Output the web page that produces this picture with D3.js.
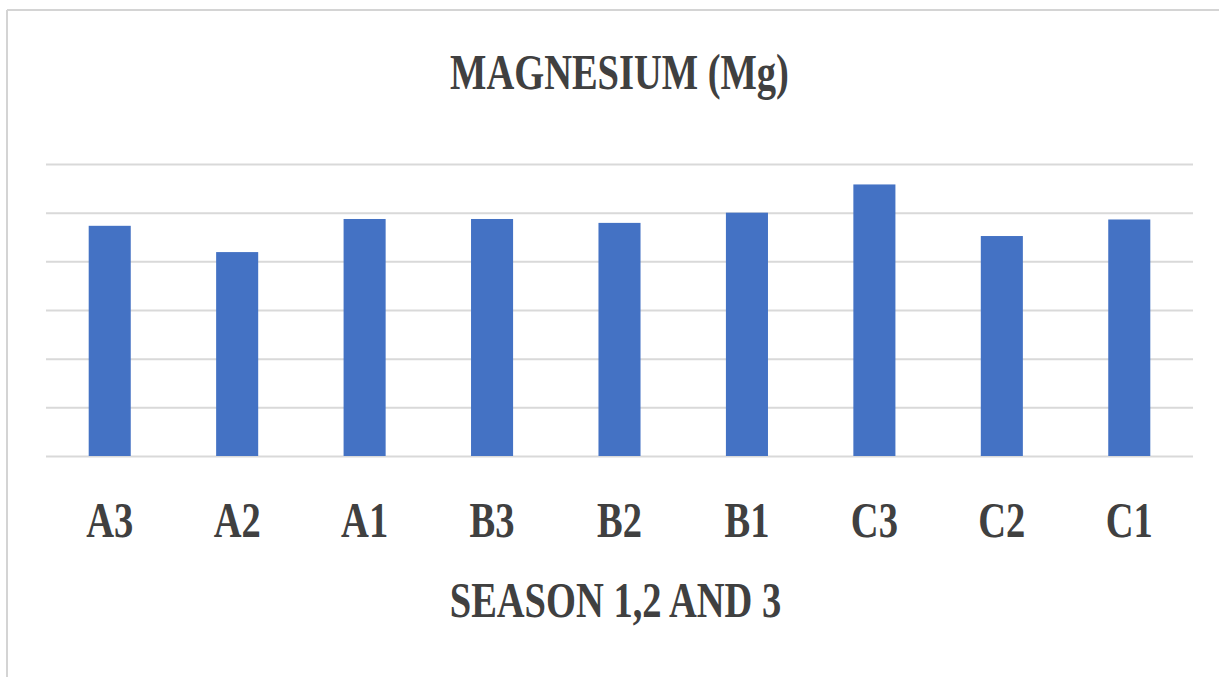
<!DOCTYPE html>
<html>
<head>
<meta charset="utf-8">
<script src="https://cdn.jsdelivr.net/npm/d3@7"></script>
<style>
  body { margin: 0; background: #fff; }
  svg text { font-family: "Liberation Serif", "Times New Roman", serif; font-weight: bold; fill: #404040; }
</style>
</head>
<body>
<svg id="chart" width="1219" height="677"></svg>
<script>
// valeurs (unités des lignes de grille, pas d'étiquettes en Y)
var categories = ["A3", "A2", "A1", "B3", "B2", "B1", "C3", "C2", "C1"];
var magnesium = [4.73, 4.19, 4.87, 4.87, 4.79, 5.0, 5.58, 4.52, 4.86];
var gridTicks = [0, 1, 2, 3, 4, 5, 6];

var toile = d3.select("#chart");
var W = 1219, H = 677;
var plotleft = 46, plotright = 1193, plottop = 164, plotbottom = 456;
var fontsize = 50, squeeze = 0.77;

// cadre gris (haut et gauche seulement visibles)
toile.append("line")
  .attr("x1", 7).attr("y1", 10).attr("x2", W).attr("y2", 10)
  .attr("stroke", "#d4d4d4").attr("stroke-width", 2)
toile.append("line")
  .attr("x1", 7).attr("y1", 10).attr("x2", 7).attr("y2", H)
  .attr("stroke", "#d4d4d4").attr("stroke-width", 2)

var x = d3.scaleBand().domain(categories).range([plotleft, plotright]).paddingInner(0.67).paddingOuter(0.335);
var y = d3.scaleLinear().domain([0, 6]).range([plotbottom, plottop]);

// lignes de grille
var yAxis = d3.axisLeft(y).tickValues(gridTicks).tickSize(-(plotright - plotleft)).tickFormat("");
var gy = toile.append("g").attr("transform", "translate(" + plotleft + ",0)").call(yAxis);
gy.select(".domain").remove();
gy.selectAll(".tick line").attr("stroke", "#d9d9d9").attr("stroke-width", 2);

// barres
toile.append("g").selectAll("rect")
  .data(magnesium)
  .enter().append("rect")
  .attr("x", function(d, i){ return x(categories[i]); })
  .attr("y", function(d){ return y(d); })
  .attr("width", x.bandwidth())
  .attr("height", function(d){ return y(0) - y(d); })
  .attr("fill", "#4472C4")

// texte étroit : police serif compressée horizontalement
function squeezedtext (xpos, ypos, txt){
  toile.append("text")
    .attr("transform", "translate(" + xpos + "," + ypos + ") scale(" + squeeze + ",1)")
    .attr("text-anchor", "middle")
    .attr("font-size", fontsize + "px")
    .text(txt)
}

// étiquettes de l'axe X
var xAxis = d3.axisBottom(x).tickSize(0).tickFormat("");
var gx = toile.append("g").attr("transform", "translate(0," + plotbottom + ")").call(xAxis);
gx.select(".domain").remove();
categories.forEach(function(c){
  squeezedtext(x(c) + x.bandwidth() / 2, 537, c);
});

squeezedtext((plotleft + plotright) / 2, 89, "MAGNESIUM (Mg)");
squeezedtext((plotleft + plotright) / 2 - 4, 617, "SEASON 1,2 AND 3");
</script>
</body>
</html>
